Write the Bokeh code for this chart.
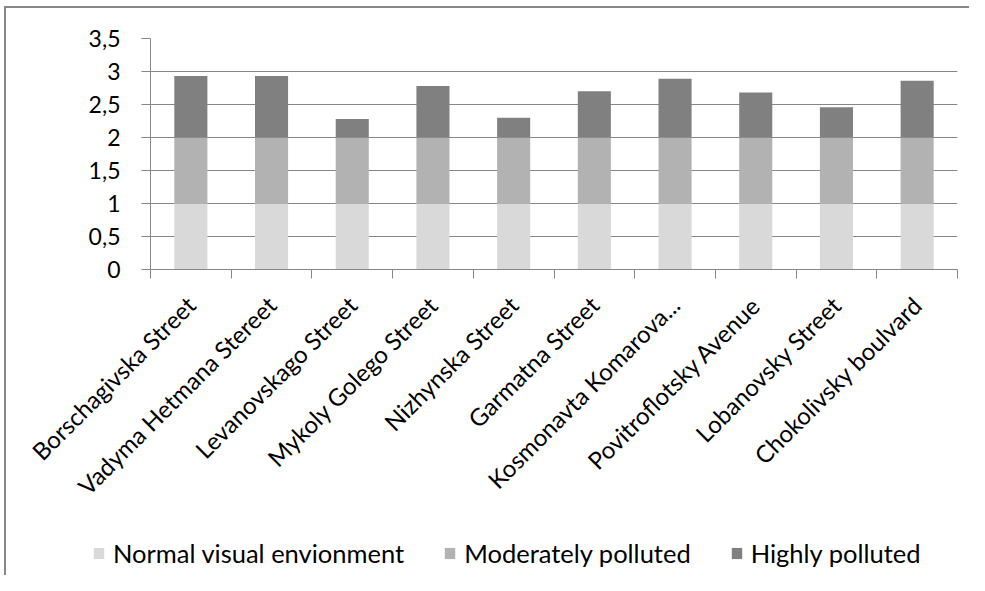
import math
from bokeh.plotting import figure
from bokeh.layouts import column, row
from bokeh.models import FixedTicker, Legend, LegendItem, ColumnDataSource
from bokeh.embed import file_html
from bokeh.resources import INLINE

streets = ["Borschagivska Street", "Vadyma Hetmana Stereet", "Levanovskago Street",
           "Mykoly Golego Street", "Nizhynska Street", "Garmatna Street",
           "Kosmonavta Komarova...", "Povitroflotsky Avenue", "Lobanovsky Street",
           "Chokolivsky boulvard"]
normal = [1, 1, 1, 1, 1, 1, 1, 1, 1, 1]
moderate = [1, 1, 1, 1, 1, 1, 1, 1, 1, 1]
highly = [0.93, 0.93, 0.28, 0.78, 0.30, 0.70, 0.89, 0.68, 0.46, 0.86]
series_names = ["Normal visual envionment", "Moderately polluted", "Highly polluted"]
colors = ["#d9d9d9", "#b2b2b2", "#808080"]
y_ticks = [0, 0.5, 1, 1.5, 2, 2.5, 3, 3.5]
y_labels = ["0", "0,5", "1", "1,5", "2", "2,5", "3", "3,5"]

FONT = "Lato"
n = len(streets)
xpos = [i + 0.5 for i in range(n)]
src = ColumnDataSource(dict(x=xpos, normal=normal, moderate=moderate, highly=highly))

W = 963
H1 = 514
H2 = 53

p = figure(width=W, height=H1, x_range=(0, n), y_range=(0, 3.5),
           output_backend="svg", toolbar_location=None,
           min_border_left=144, min_border_right=12, min_border_top=30,
           min_border_bottom=253)
p.outline_line_color = None
p.background_fill_color = "white"
p.border_fill_color = "white"

renderers = p.vbar_stack(["normal", "moderate", "highly"], x="x", width=0.41,
                         color=colors, line_color=None, source=src)

# y axis
p.yaxis.ticker = FixedTicker(ticks=y_ticks)
p.yaxis.major_label_overrides = {t: l for t, l in zip(y_ticks, y_labels)}
p.yaxis.major_label_text_font = FONT
p.yaxis.major_label_text_font_size = "23px"
p.yaxis.major_label_text_color = "#000000"
p.yaxis.axis_line_color = "#868686"
p.yaxis.major_tick_line_color = "#868686"
p.yaxis.major_tick_in = 0
p.yaxis.major_tick_out = 9
p.yaxis.minor_tick_line_color = None
p.yaxis.major_label_standoff = 21

# x axis
p.xaxis.ticker = FixedTicker(ticks=xpos, minor_ticks=list(range(n + 1)))
p.xaxis.major_label_overrides = {x: s for x, s in zip(xpos, streets)}
p.xaxis.major_label_orientation = math.pi / 4
p.xaxis.major_label_text_font = FONT
p.xaxis.major_label_text_font_size = "24px"
p.xaxis.major_label_text_color = "#000000"
p.xaxis.axis_line_color = "#868686"
p.xaxis.major_tick_line_color = None
p.xaxis.major_tick_in = 0
p.xaxis.major_tick_out = 0
p.xaxis.minor_tick_line_color = "#868686"
p.xaxis.minor_tick_in = 0
p.xaxis.minor_tick_out = 9
p.xaxis.major_label_standoff = 22

p.xgrid.grid_line_color = None
p.ygrid.ticker = FixedTicker(ticks=y_ticks)
p.ygrid.grid_line_color = "#868686"
p.ygrid.grid_line_width = 1

# legend strip below the chart
pl = figure(width=W, height=H2, x_range=(0, 1), y_range=(0, 1),
            output_backend="svg", toolbar_location=None,
            min_border=0, min_border_left=0, min_border_right=0,
            min_border_top=0, min_border_bottom=0)
pl.axis.visible = False
pl.grid.visible = False
pl.outline_line_color = None
pl.background_fill_color = "white"
pl.border_fill_color = "white"
offscreen = ColumnDataSource(dict(x=[-5.0], top=[-5.0]))
leg_rs = [pl.vbar(x="x", top="top", width=0.1, color=c, line_color=None, source=offscreen)
          for c in colors]
legend = Legend(items=[LegendItem(label=nm, renderers=[r]) for nm, r in zip(series_names, leg_rs)],
                orientation="horizontal", location=(86, 7),
                label_text_font=FONT, label_text_font_size="25.5px",
                label_text_color="#000000", glyph_width=13, glyph_height=14,
                label_standoff=8, spacing=39, padding=0, margin=0,
                background_fill_alpha=0, border_line_color=None)
pl.add_layout(legend, "center")

layout = column(p, row(pl, spacing=0), spacing=0)
layout.styles = {"border-left": "2px solid #878787", "border-top": "2px solid #878787",
                 "margin-left": "4px", "margin-top": "6px"}

open("out.html", "w").write(file_html(layout, INLINE))
